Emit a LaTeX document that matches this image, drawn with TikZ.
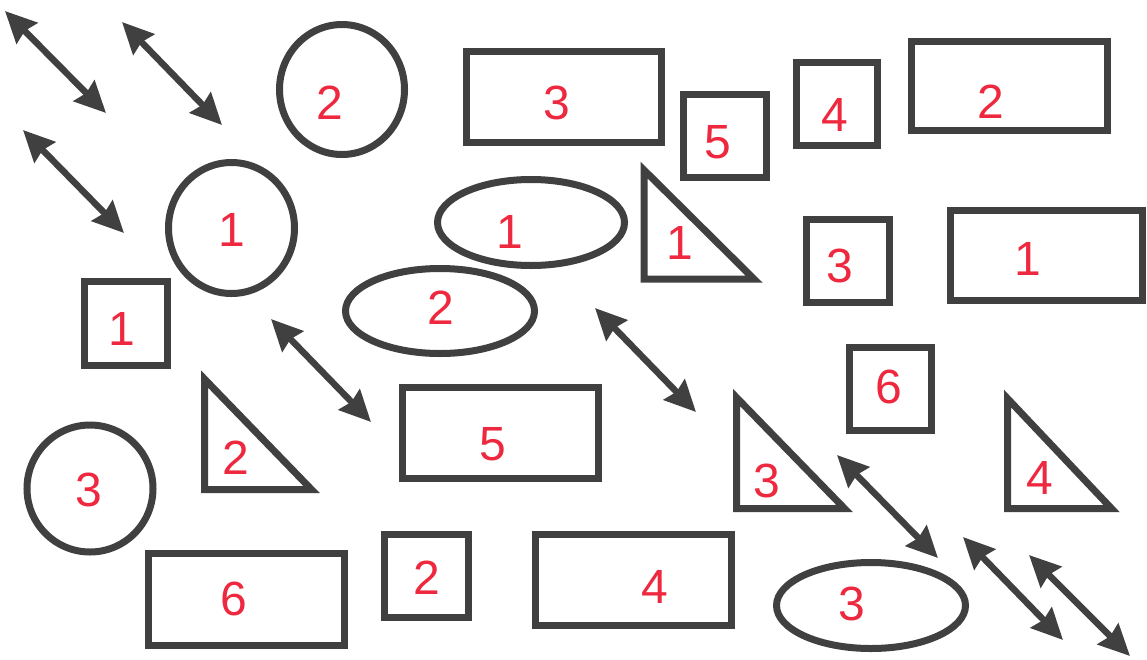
\documentclass[tikz,border=0pt]{standalone}
\usepackage{fontspec}
\setmainfont{Liberation Sans}
\usetikzlibrary{arrows.meta}
\definecolor{ink}{RGB}{64,64,64}
\definecolor{pen}{RGB}{238,40,62}
\begin{document}
\begin{tikzpicture}[x=1pt,y=-1pt,
  outline/.style={draw=ink,line width=7pt,line join=miter},
  box/.style={draw=ink,line width=7pt,rectangle,inner sep=0pt,outer sep=0pt},
  digit/.style={text=pen,font=\fontsize{48}{48}\selectfont,inner sep=0pt},
  dbl/.style={draw=ink,fill=ink,line width=6.5pt,{Stealth[length=31pt,width=29pt,inset=3pt]}-{Stealth[length=31pt,width=29pt,inset=3pt]}}]
\useasboundingbox (0,0) rectangle (1147,659);
% rectangles and squares (size = outer - line width)
\node[box,minimum width=195pt,minimum height=91pt] (r3) at (564,97) {};
\node[box,minimum width=83pt,minimum height=83pt] (s5) at (725,136) {};
\node[box,minimum width=81pt,minimum height=83pt] (s4) at (837,104) {};
\node[box,minimum width=196pt,minimum height=89pt] (r2) at (1009.5,86) {};
\node[box,minimum width=83pt,minimum height=83pt] (s3) at (848,261) {};
\node[box,minimum width=192pt,minimum height=90pt] (r1) at (1046.5,255.5) {};
\node[box,minimum width=83pt,minimum height=84pt] (s1) at (126,323.5) {};
\node[box,minimum width=82pt,minimum height=83pt] (s6) at (890.5,389) {};
\node[box,minimum width=196pt,minimum height=91pt] (r5) at (500.5,433) {};
\node[box,minimum width=196pt,minimum height=92pt] (r6) at (246.5,599.5) {};
\node[box,minimum width=84pt,minimum height=83pt] (s2) at (426.5,576) {};
\node[box,minimum width=196pt,minimum height=91pt] (r4) at (633.5,580) {};
% circles and ellipses
\draw[outline] (342,89.5) ellipse [x radius=62.5, y radius=65];
\draw[outline] (231.5,228) ellipse [x radius=63, y radius=65.5];
\draw[outline] (90,488.5) ellipse [x radius=63, y radius=63.5];
\draw[outline] (531,222.5) ellipse [x radius=93.5, y radius=43];
\draw[outline] (440,311) ellipse [x radius=94.5, y radius=42.5];
\draw[outline] (871,605.5) ellipse [x radius=94.5, y radius=43];
% triangles
\draw[outline] (644,170) -- (644,279) -- (754,279) -- cycle;
\draw[outline] (204.5,379) -- (204.5,489.5) -- (311.5,489.5) -- cycle;
\draw[outline] (736.5,397.5) -- (736.5,508.5) -- (844.5,508.5) -- cycle;
\draw[outline] (1007.5,398.5) -- (1007.5,508.5) -- (1111.5,508.5) -- cycle;
% labels
\node[digit] (lc2) at (330,103) {2};
\node[digit] (lc1) at (232,230) {1};
\node[digit] (lc3) at (89,490) {3};
\node[digit] (le1) at (510,232) {1};
\node[digit] (le2) at (441,308) {2};
\node[digit] (le3) at (852,604) {3};
\node[digit] (lr3) at (557,103) {3};
\node[digit] (ls5) at (718,142) {5};
\node[digit] (ls4) at (835,115) {4};
\node[digit] (lr2) at (991,102) {2};
\node[digit] (ls3) at (840,266) {3};
\node[digit] (lr1) at (1028,259) {1};
\node[digit] (ls1) at (122,329) {1};
\node[digit] (ls6) at (889,387) {6};
\node[digit] (lr5) at (493,444) {5};
\node[digit] (lr6) at (234,599) {6};
\node[digit] (ls2) at (427,578) {2};
\node[digit] (lr4) at (655,587) {4};
\node[digit] (lt1) at (680,243) {1};
\node[digit] (lt2) at (236,458) {2};
\node[digit] (lt3) at (767,481) {3};
\node[digit] (lt4) at (1040,478) {4};
% double arrows
\coordinate (a1s) at (5,11);    \coordinate (a1e) at (106,113);
\coordinate (a2s) at (122,22);  \coordinate (a2e) at (222,125);
\coordinate (a3s) at (23,130);  \coordinate (a3e) at (124,233);
\coordinate (a4s) at (271,319); \coordinate (a4e) at (371,422);
\coordinate (a5s) at (595,308); \coordinate (a5e) at (696,412);
\coordinate (a6s) at (837,455); \coordinate (a6e) at (938,558);
\coordinate (a7s) at (963,537); \coordinate (a7e) at (1063,640);
\coordinate (a8s) at (1029,555);\coordinate (a8e) at (1130,656);
\foreach \i in {1,...,8} \draw[dbl] (a\i s) -- (a\i e);
\end{tikzpicture}
\end{document}
